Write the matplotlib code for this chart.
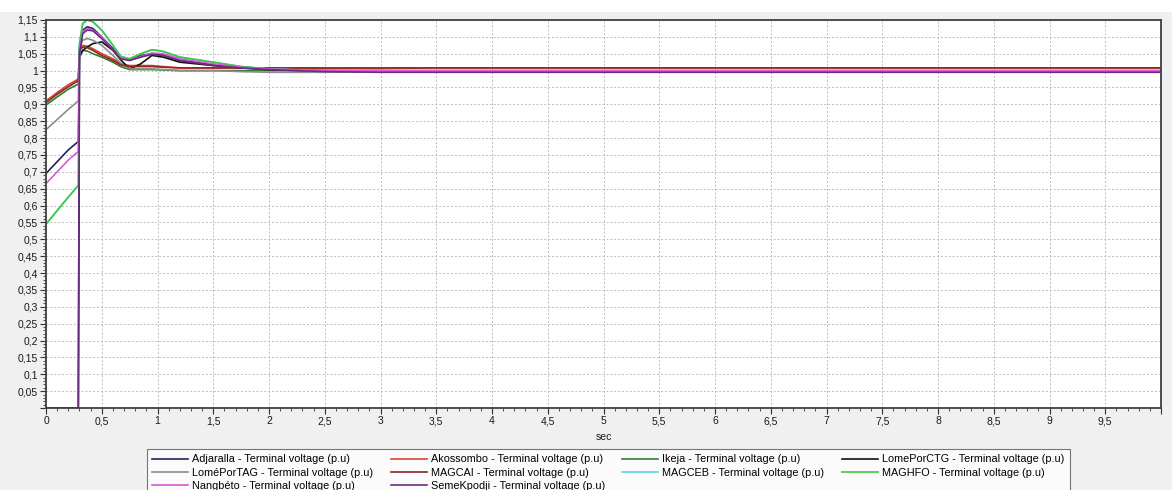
import matplotlib
matplotlib.use("Agg")
import matplotlib.pyplot as plt
from matplotlib.ticker import MultipleLocator, FuncFormatter
from matplotlib.patches import Rectangle

plt.rcParams['font.family'] = ['Liberation Sans', 'DejaVu Sans']

time_s = [0, 0.1, 0.2, 0.29, 0.3, 0.33, 0.37, 0.42, 0.5, 0.6, 0.67, 0.75, 0.85, 0.95,
          1.05, 1.2, 1.5, 1.75, 2.0, 2.5, 3.0, 3.5, 4.0, 4.5, 5.0, 10.0]

adjaralla = [0.695, 0.73, 0.765, 0.79, 1.06, 1.12, 1.13, 1.125, 1.1, 1.065, 1.038, 1.032, 1.045,
             1.05, 1.045, 1.03, 1.018, 1.01, 1.005, 1.0, 0.998, 0.997, 0.997, 0.997, 0.997, 0.997]
akossombo = [0.91, 0.935, 0.958, 0.975, 1.065, 1.075, 1.072, 1.065, 1.05, 1.035, 1.02, 1.015, 1.015,
             1.015, 1.012, 1.008, 1.008, 1.008, 1.008, 1.006, 1.006, 1.008, 1.008, 1.008, 1.008, 1.008]
ikeja = [0.898, 0.922, 0.945, 0.96, 1.05, 1.06, 1.058, 1.05, 1.04, 1.025, 1.012, 1.003, 1.003,
         1.003, 1.002, 1.0, 1.0, 1.0, 1.0, 1.0, 1.0, 1.0, 1.0, 1.0, 1.0, 1.0]
lomeporctg = [0, 0, 0, 0, 1.04, 1.06, 1.07, 1.08, 1.085, 1.06, 1.032, 1.005, 1.02,
              1.045, 1.04, 1.025, 1.015, 1.008, 1.003, 0.998, 0.997, 0.997, 0.997, 0.997, 0.997, 0.997]
lomeportag = [0.825, 0.855, 0.885, 0.91, 1.07, 1.09, 1.095, 1.09, 1.075, 1.045, 1.022, 1.005, 1.005,
              1.005, 1.003, 1.0, 1.0, 0.997, 0.995, 0.995, 0.996, 0.997, 0.998, 0.998, 0.998, 0.998]
magcai = [0.905, 0.93, 0.952, 0.97, 1.06, 1.07, 1.068, 1.06, 1.045, 1.03, 1.017, 1.012, 1.012,
          1.012, 1.01, 1.008, 1.008, 1.008, 1.008, 1.008, 1.008, 1.008, 1.008, 1.008, 1.008, 1.008]
magceb = [0.545, 0.585, 0.625, 0.66, 1.08, 1.14, 1.15, 1.145, 1.12, 1.075, 1.042, 1.035, 1.05,
          1.062, 1.057, 1.04, 1.025, 1.012, 1.005, 0.999, 0.997, 0.996, 0.996, 0.996, 0.996, 0.996]
maghfo = [0.545, 0.585, 0.625, 0.66, 1.08, 1.14, 1.15, 1.145, 1.12, 1.075, 1.042, 1.035, 1.05,
          1.062, 1.057, 1.04, 1.025, 1.012, 1.005, 0.999, 0.997, 0.996, 0.996, 0.996, 0.996, 0.996]
nangbeto = [0.665, 0.70, 0.735, 0.76, 1.06, 1.115, 1.125, 1.12, 1.1, 1.06, 1.037, 1.03, 1.042,
            1.052, 1.05, 1.035, 1.02, 1.01, 1.005, 1.0, 1.0, 1.0, 1.0, 1.0, 1.0, 1.0]
semekpodji = [0, 0, 0, 0, 1.05, 1.11, 1.12, 1.118, 1.095, 1.06, 1.035, 1.03, 1.04,
              1.048, 1.045, 1.03, 1.015, 1.008, 1.003, 0.997, 0.995, 0.995, 0.995, 0.995, 0.995, 0.995]

names = ["Adjaralla", "Akossombo", "Ikeja", "LomePorCTG", "LoméPorTAG",
         "MAGCAI", "MAGCEB", "MAGHFO", "Nangbéto", "SemeKpodji"]
series = [adjaralla, akossombo, ikeja, lomeporctg, lomeportag,
          magcai, magceb, maghfo, nangbeto, semekpodji]
colors = ["#23235e", "#d9432f", "#2e7d32", "#111111", "#8c8c8c",
          "#8b2a1e", "#5ad8e8", "#3ec83e", "#d85ad8", "#6a2c80"]
suffix = " - Terminal voltage (p.u)"

W, H = 1172, 490
fig = plt.figure(figsize=(W / 100, H / 100), dpi=100)
fig.patch.set_facecolor("#f0f0f0")
fig.patches.append(Rectangle((0, 1 - 12 / H), 1, 12 / H, transform=fig.transFigure,
                             facecolor="white", edgecolor="none", zorder=0))

ax = fig.add_axes([46 / W, 1 - 408 / H, (1161 - 46) / W, (408 - 20) / H])
ax.set_facecolor("white")

handles = {}
for name, vals, col in zip(names, series, colors):
    ln, = ax.plot(time_s, vals, color=col, lw=1.2, label=name + suffix)
    handles[name] = ln

ax.set_xlim(0, 10)
ax.set_ylim(0, 1.15)
ax.xaxis.set_major_locator(MultipleLocator(0.5))
ax.xaxis.set_minor_locator(MultipleLocator(0.1))
ax.yaxis.set_major_locator(MultipleLocator(0.05))
ax.yaxis.set_minor_locator(MultipleLocator(0.01))


def fmt_x(v, pos):
    if v > 9.99:
        return ""
    return ("%g" % round(v, 2)).replace(".", ",")


def fmt_y(v, pos):
    if abs(v) < 1e-9:
        return ""
    return ("%g" % round(v, 2)).replace(".", ",")


ax.xaxis.set_major_formatter(FuncFormatter(fmt_x))
ax.yaxis.set_major_formatter(FuncFormatter(fmt_y))
ax.tick_params(axis="both", which="major", labelsize=7.5, length=4, width=0.8,
               colors="#333333", labelcolor="#1a1a1a", pad=2)
ax.tick_params(axis="both", which="minor", length=2.5, width=0.6, colors="#333333")
ax.grid(True, which="major", color="#bdbdbd", linestyle=(0, (2, 2)), linewidth=0.7)
for sp in ax.spines.values():
    sp.set_color("#404040")
    sp.set_linewidth(1.3)

fig.text(604 / W, 1 - 437 / H, "sec", ha="center", va="center", fontsize=7.5, color="#1a1a1a")

order = ["Adjaralla", "LoméPorTAG", "Nangbéto", "Akossombo", "MAGCAI", "SemeKpodji",
         "Ikeja", "MAGCEB", "LomePorCTG", "MAGHFO"]
leg = fig.legend([handles[n] for n in order], [n + suffix for n in order],
                 loc="upper left", bbox_to_anchor=(147 / W, 1 - 449 / H), ncol=4,
                 fontsize=7.8, frameon=True, fancybox=False, handlelength=3.3,
                 handletextpad=0.4, columnspacing=1.6, labelspacing=0.3,
                 borderpad=0.5, borderaxespad=0)
leg.get_frame().set_edgecolor("#555555")
leg.get_frame().set_linewidth(0.8)

fig.savefig("out.png", dpi=100, facecolor=fig.get_facecolor())
